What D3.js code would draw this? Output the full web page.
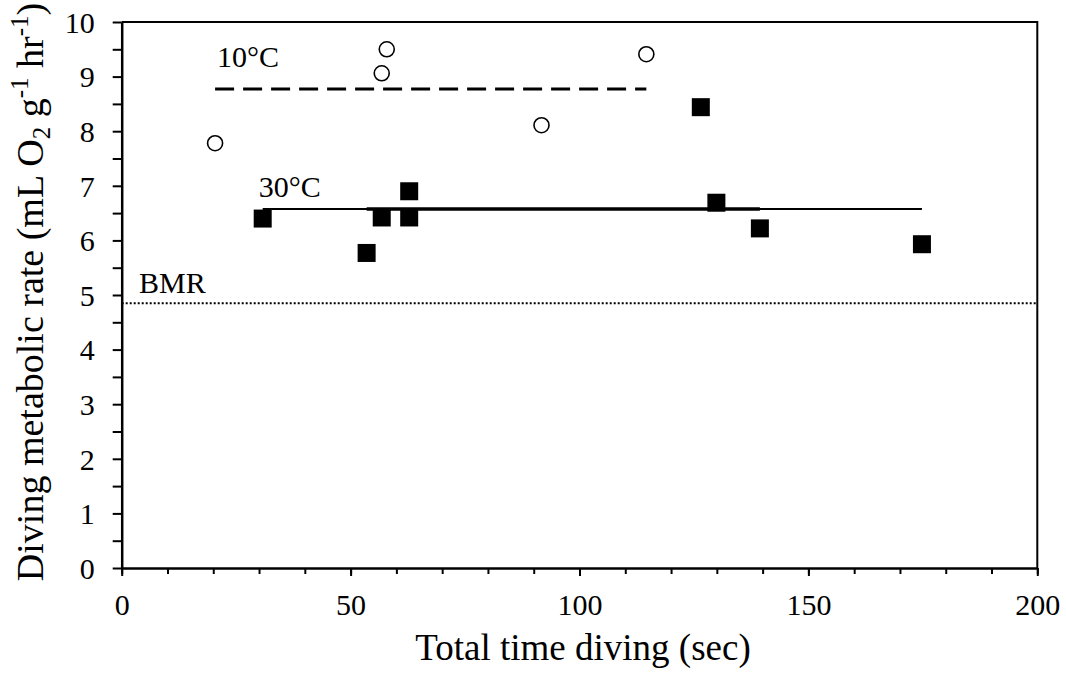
<!DOCTYPE html>
<html>
<head>
<meta charset="utf-8">
<script src="https://cdn.jsdelivr.net/npm/d3@7"></script>
<style>
  body { margin: 0; background: #fff; }
  text { font-family: "Liberation Serif", "Times New Roman", serif; fill: #000; }
</style>
</head>
<body>
<script>
// Data
var time10 = [20.4, 56.8, 57.9, 91.7, 114.6];
var rate10 = [7.78, 9.06, 9.50, 8.11, 9.41];

var time30 = [30.8, 53.5, 56.8, 62.8, 62.8, 126.5, 129.9, 139.4, 174.8];
var rate30 = [6.40, 5.77, 6.42, 6.42, 6.90, 8.44, 6.69, 6.22, 5.93];

var bmr = 4.85;
var thick30 = [53.5, 139.4]; // overlapping heavier stretch of the 30°C mean line

var xTicks = [0, 50, 100, 150, 200];
var yTicks = [0, 1, 2, 3, 4, 5, 6, 7, 8, 9, 10];

var width = 1066;
var height = 673;

var svg = d3.select("body")
            .append("svg")
            .attr("width", width)
            .attr("height", height);

var x = d3.scaleLinear().domain([0, 200]).range([121.7, 1037.3]);
var y = d3.scaleLinear().domain([0, 10]).range([568, 22]);

// frame (top and right)
svg.append("path")
   .attr("d", "M" + x(0) + "," + y(10) + "H" + x(200) + "V" + y(0))
   .attr("fill", "none")
   .attr("stroke", "#000")
   .attr("stroke-width", 2);

// x minor ticks
svg.append("g")
   .attr("transform", "translate(0," + y(0) + ")")
   .call(d3.axisBottom(x).tickValues(d3.range(0, 201, 10)).tickSize(6).tickFormat(""))
   .call(function(g) { g.select(".domain").remove(); })
   .selectAll("line").attr("stroke-width", 2);

// x major ticks + labels
var xg = svg.append("g")
   .attr("transform", "translate(0," + y(0) + ")")
   .call(d3.axisBottom(x).tickValues(xTicks).tickSize(8).tickSizeOuter(0).tickFormat(d3.format("d")));
xg.select(".domain").attr("stroke-width", 2.5);
xg.selectAll("line").attr("stroke-width", 2);
xg.selectAll("text")
  .attr("y", 47).attr("dy", 0)
  .style("font-size", "30px");

// y ticks (every 0.5) + labels
var yg = svg.append("g")
   .attr("transform", "translate(" + x(0) + ",0)")
   .call(d3.axisLeft(y).tickValues(d3.range(0, 10.01, 0.5)).tickSize(9).tickSizeOuter(0)
           .tickFormat(function(d) { return yTicks.indexOf(d) >= 0 ? d : ""; }));
yg.select(".domain").attr("stroke-width", 2.5);
yg.selectAll("line").attr("stroke-width", 2);
yg.selectAll("text")
  .attr("x", -27).attr("dy", "0.34em")
  .style("font-size", "30px");

// axis titles
svg.append("text")
   .attr("x", 583).attr("y", 660)
   .attr("text-anchor", "middle")
   .style("font-size", "37px")
   .text("Total time diving (sec)");

var yt = svg.append("text")
   .attr("transform", "translate(43,292) rotate(-90)")
   .attr("text-anchor", "middle")
   .style("font-size", "38px");
yt.append("tspan").text("Diving metabolic rate (mL O");
yt.append("tspan").attr("dy", 7).style("font-size", "25px").text("2");
yt.append("tspan").attr("dy", -7).text(" g");
yt.append("tspan").attr("dy", -15).style("font-size", "25px").text("-1");
yt.append("tspan").attr("dy", 15).text(" hr");
yt.append("tspan").attr("dy", -15).style("font-size", "25px").text("-1");
yt.append("tspan").attr("dy", 15).text(")");

// BMR dotted line
svg.append("line")
   .attr("x1", x(0)).attr("x2", x(200))
   .attr("y1", y(bmr)).attr("y2", y(bmr))
   .attr("stroke", "#000")
   .attr("stroke-width", 2)
   .attr("stroke-dasharray", "2,2");

svg.append("text")
   .attr("x", x(3.8)).attr("y", y(bmr) - 10)
   .style("font-size", "30px")
   .text("BMR");

// mean lines
var mean10 = d3.mean(rate10);
var mean30 = d3.mean(rate30);

svg.append("line")
   .attr("x1", x(d3.min(time10))).attr("x2", x(d3.max(time10)))
   .attr("y1", y(mean10)).attr("y2", y(mean10))
   .attr("stroke", "#000")
   .attr("stroke-width", 3)
   .attr("stroke-dasharray", "19,9");

svg.append("line")
   .attr("x1", x(d3.min(time30))).attr("x2", x(d3.max(time30)))
   .attr("y1", y(mean30)).attr("y2", y(mean30))
   .attr("stroke", "#000")
   .attr("stroke-width", 2);

svg.append("line")
   .attr("x1", x(thick30[0])).attr("x2", x(thick30[1]))
   .attr("y1", y(mean30)).attr("y2", y(mean30))
   .attr("stroke", "#000")
   .attr("stroke-width", 3.5);

svg.append("text")
   .attr("x", x(d3.min(time10)) + 2).attr("y", y(mean10) - 22)
   .style("font-size", "30px")
   .text("10°C");

svg.append("text")
   .attr("x", x(d3.min(time30)) - 4).attr("y", y(mean30) - 12)
   .style("font-size", "30px")
   .text("30°C");

// 10°C points: open circles
svg.selectAll("circle.p10")
   .data(d3.zip(time10, rate10))
   .enter()
   .append("circle")
   .attr("class", "p10")
   .attr("cx", function(d) { return x(d[0]); })
   .attr("cy", function(d) { return y(d[1]); })
   .attr("r", 7.5)
   .attr("fill", "#fff")
   .attr("stroke", "#000")
   .attr("stroke-width", 1.6);

// 30°C points: filled squares
var s = 18;
svg.selectAll("rect.p30")
   .data(d3.zip(time30, rate30))
   .enter()
   .append("rect")
   .attr("class", "p30")
   .attr("x", function(d) { return x(d[0]) - s / 2; })
   .attr("y", function(d) { return y(d[1]) - s / 2; })
   .attr("width", s)
   .attr("height", s)
   .attr("fill", "#000");
</script>
</body>
</html>
